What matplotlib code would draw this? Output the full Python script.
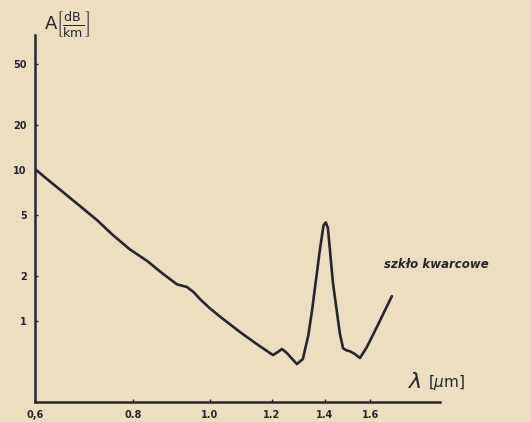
import numpy as np
import matplotlib.pyplot as plt
from matplotlib.ticker import FixedLocator, NullLocator

# attenuation of quartz glass
wavelength_um = [0.602, 0.625, 0.651, 0.685, 0.719, 0.754, 0.792, 0.833, 0.873,
                 0.909, 0.936, 0.955, 0.972, 1.000, 1.031, 1.093, 1.150, 1.204,
                 1.222, 1.236, 1.254, 1.291, 1.314, 1.335, 1.350, 1.381, 1.396,
                 1.405, 1.414, 1.435, 1.464, 1.478, 1.493, 1.508, 1.530, 1.553,
                 1.585, 1.632, 1.705]
attenuation_db_km = [10.0, 8.5, 7.15, 5.75, 4.67, 3.70, 2.98, 2.50, 2.05,
                     1.75, 1.68, 1.55, 1.40, 1.22, 1.07, 0.846, 0.70, 0.595,
                     0.625, 0.653, 0.614, 0.519, 0.560, 0.80, 1.18, 2.95, 4.30,
                     4.50, 4.13, 1.79, 0.833, 0.660, 0.640, 0.630, 0.605, 0.569,
                     0.673, 0.913, 1.46]

x_ticks = [0.6, 0.8, 1.0, 1.2, 1.4, 1.6]
x_tick_labels = ["0,6", "0.8", "1.0", "1.2", "1.4", "1.6"]
y_ticks = [1, 2, 5, 10, 20, 50]
y_tick_labels = ["1", "2", "5", "10", "20", "50"]

paper = "#ecdfc0"
ink = "#26272d"

fig = plt.figure(figsize=(5.31, 4.22), dpi=100, facecolor=paper)
ax = fig.add_axes([35 / 531, 20 / 422, 405 / 531, 367 / 422])
ax.set_facecolor(paper)

ax.plot(wavelength_um, attenuation_db_km, color=ink, lw=1.9,
        solid_capstyle="round", solid_joinstyle="round")

ax.set_xscale("log")
ax.set_yscale("log")
ax.set_xlim(0.6, 1.963)
ax.set_ylim(0.291, 78.3)

ax.xaxis.set_major_locator(FixedLocator(x_ticks))
ax.xaxis.set_minor_locator(NullLocator())
ax.set_xticklabels(x_tick_labels)
ax.yaxis.set_major_locator(FixedLocator(y_ticks))
ax.yaxis.set_minor_locator(NullLocator())
ax.set_yticklabels(y_tick_labels)

for side in ("top", "right"):
    ax.spines[side].set_visible(False)
for side in ("left", "bottom"):
    ax.spines[side].set_color(ink)
    ax.spines[side].set_linewidth(1.8)

ax.tick_params(direction="in", length=2.5, width=1, color=ink,
               labelsize=7, labelcolor=ink, pad=6)
for lab in ax.get_xticklabels() + ax.get_yticklabels():
    lab.set_fontweight("bold")

fig.text(44 / 531, 1 - 24 / 422, r"A$\left[\frac{\mathrm{dB}}{\mathrm{km}}\right]$",
         fontsize=13, color=ink, va="center", ha="left")
fig.text(408 / 531, 1 - 382 / 422, r"$\lambda$", fontsize=16,
         color=ink, va="center", ha="left")
fig.text(428 / 531, 1 - 382 / 422, r"[$\mu$m]", fontsize=11,
         color=ink, va="center", ha="left")
fig.text(384 / 531, 1 - 264 / 422, "szkło kwarcowe", fontsize=8.5,
         fontweight="bold", style="italic", color=ink, va="center", ha="left")

fig.savefig("out.png", dpi=100, facecolor=paper)
